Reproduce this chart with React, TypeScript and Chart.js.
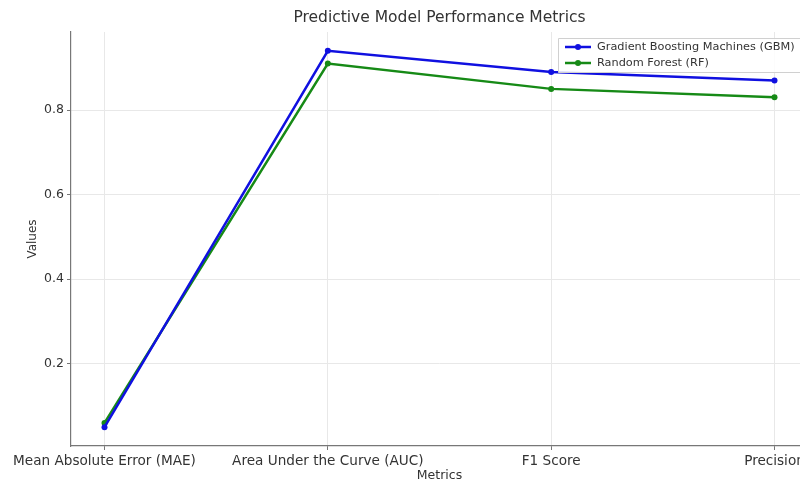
import React, { useEffect, useRef } from "react";
import { Chart, registerables } from "chart.js";

Chart.register(...registerables);

const categories = ["Mean Absolute Error (MAE)", "Area Under the Curve (AUC)", "F1 Score", "Precision"];
const gbmValues = [0.05, 0.94, 0.89, 0.87];
const rfValues = [0.06, 0.91, 0.85, 0.83];
const yTicks = [0.2, 0.4, 0.6, 0.8];
const seriesNames = ["Gradient Boosting Machines (GBM)", "Random Forest (RF)"];
const titleText = "Predictive Model Performance Metrics";
const xTitle = "Metrics";
const yTitle = "Values";

const BLUE = "#1010e0";
const GREEN = "#168a16";
const FONT = "'DejaVu Sans', sans-serif";

const decorPlugin = {
  id: "decor",
  afterDraw(chart: any) {
    const { ctx, chartArea } = chart;
    const cx = (chartArea.left + chartArea.right) / 2;
    ctx.save();
    ctx.fillStyle = "#333";
    ctx.textAlign = "center";
    ctx.textBaseline = "middle";
    ctx.font = `15.5px ${FONT}`;
    ctx.fillText(titleText, cx, 18);
    ctx.font = `12.5px ${FONT}`;
    ctx.fillText(xTitle, cx, 476);
    ctx.save();
    ctx.translate(33, (chartArea.top + chartArea.bottom) / 2);
    ctx.rotate(-Math.PI / 2);
    ctx.font = `12px ${FONT}`;
    ctx.fillText(yTitle, 0, 0);
    ctx.restore();

    // legend
    const lx = 558, ly = 38, lw = 260, lh = 34;
    ctx.fillStyle = "rgba(255,255,255,0.85)";
    ctx.strokeStyle = "#d0d0d0";
    ctx.lineWidth = 1;
    ctx.beginPath();
    ctx.rect(lx + 0.5, ly + 0.5, lw, lh);
    ctx.fill();
    ctx.stroke();
    const colors = [BLUE, GREEN];
    seriesNames.forEach((name, i) => {
      const y = ly + 9 + i * 16;
      ctx.strokeStyle = colors[i];
      ctx.lineWidth = 2.5;
      ctx.beginPath();
      ctx.moveTo(565, y);
      ctx.lineTo(591, y);
      ctx.stroke();
      ctx.fillStyle = colors[i];
      ctx.beginPath();
      ctx.arc(578, y, 3, 0, Math.PI * 2);
      ctx.fill();
      ctx.fillStyle = "#333";
      ctx.textAlign = "left";
      ctx.font = `11.3px ${FONT}`;
      ctx.fillText(name, 597, y);
    });
    ctx.restore();
  },
};

export default function App() {
  const ref = useRef<HTMLCanvasElement>(null);
  useEffect(() => {
    if (!ref.current) return;
    const mk = (vals: number[]) => vals.map((v, i) => ({ x: i, y: v }));
    const chart = new Chart(ref.current, {
      type: "line",
      data: {
        datasets: [
          {
            label: seriesNames[0],
            data: mk(gbmValues),
            borderColor: BLUE,
            backgroundColor: BLUE,
            borderWidth: 2.5,
            pointRadius: 3,
            pointBorderWidth: 0,
            tension: 0,
          },
          {
            label: seriesNames[1],
            data: mk(rfValues),
            borderColor: GREEN,
            backgroundColor: GREEN,
            borderWidth: 2.5,
            pointRadius: 3,
            pointBorderWidth: 0,
            tension: 0,
          },
        ],
      },
      options: {
        responsive: false,
        animation: false,
        layout: { padding: { top: 32, right: 32, left: 0, bottom: 0 } },
        plugins: { legend: { display: false }, title: { display: false }, tooltip: { enabled: false } },
        scales: {
          x: {
            type: "linear",
            min: -0.15,
            max: 3.15,
            afterBuildTicks: (s: any) => {
              s.ticks = categories.map((_, i) => ({ value: i }));
            },
            afterFit: (s: any) => {
              s.height = 38;
              s.paddingLeft = 0;
              s.paddingRight = 0;
            },
            ticks: {
              callback: (v: any) => categories[v as number] ?? "",
              maxRotation: 0,
              autoSkip: false,
              padding: 3,
              color: "#333",
              font: { family: FONT, size: 13.6 },
            },
            grid: { color: "#e8e8e8", tickColor: "#777", tickLength: 4 },
            border: { color: "#777", width: 1.2 },
          },
          y: {
            type: "linear",
            min: 0.0055,
            max: 0.9845,
            afterBuildTicks: (s: any) => {
              s.ticks = yTicks.map((v) => ({ value: v }));
            },
            afterFit: (s: any) => {
              s.width = 71;
              s.paddingTop = 0;
              s.paddingBottom = 0;
            },
            ticks: {
              callback: (v: any) => (v as number).toFixed(1),
              padding: 3,
              color: "#333",
              font: { family: FONT, size: 12.5 },
            },
            grid: { color: "#e8e8e8", tickColor: "#777", tickLength: 4 },
            border: { color: "#777", width: 1.2 },
          },
        },
      },
      plugins: [decorPlugin],
    });
    return () => chart.destroy();
  }, []);
  return (
    <div style={{ position: "fixed", left: 0, top: 0, width: 800, height: 484, overflow: "hidden", background: "#fff" }}>
      <canvas ref={ref} width={840} height={484} style={{ display: "block" }} />
    </div>
  );
}
